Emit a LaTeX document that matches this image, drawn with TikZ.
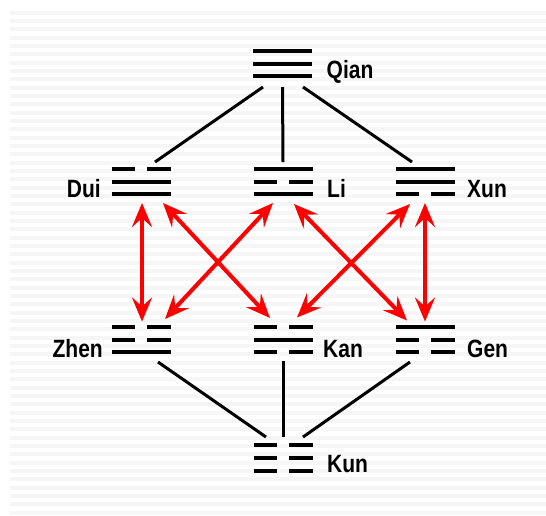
\documentclass[tikz,border=0pt]{standalone}
\usepackage{fontspec}
\newfontfamily\lab{Liberation Sans}[BoldFeatures={FakeStretch=0.84}]
\usetikzlibrary{calc,arrows.meta}
\tikzset{
 tri/.style={minimum width=59pt, minimum height=30pt, inner sep=0pt, outer sep=0pt},
 lbl/.style={font=\lab\bfseries\fontsize{25}{26}\selectfont, inner sep=0pt},
 bar/.style={line width=4pt, black},
 link/.style={line width=3pt, black},
 rarr/.style={red, line width=4pt, {Stealth[length=24pt,width=20pt,inset=9pt]}-{Stealth[length=24pt,width=20pt,inset=9pt]}},
 stripe/.style={fill=gray!7, draw=none}
}
\newcommand{\trline}[3]{%
 \ifnum#3=1
   \draw[bar] ($(#1.center)+(-29.5,#2)$) -- ($(#1.center)+(29.5,#2)$);
 \else
   \draw[bar] ($(#1.center)+(-29.5,#2)$) -- ($(#1.center)+(-6,#2)$);
   \draw[bar] ($(#1.center)+(6,#2)$) -- ($(#1.center)+(29.5,#2)$);
 \fi}
\newcommand{\trigram}[4]{\trline{#1}{-12.75}{#2}\trline{#1}{0}{#3}\trline{#1}{12.75}{#4}}
\begin{document}
\begin{tikzpicture}[x=1pt,y=-1pt]
\useasboundingbox (0,0) rectangle (546,515);
\fill[white] (0,0) rectangle (546,515);
\foreach \k in {0,...,60} \fill[stripe] (10,{10.7+8.333*\k}) rectangle (546,{14.7+8.333*\k});
% trigram nodes
\node[tri] (qian) at (282.5,63.5) {};
\node[tri] (dui)  at (141,181.5) {};
\node[tri] (li)   at (283,181.5) {};
\node[tri] (xun)  at (425,181.5) {};
\node[tri] (zhen) at (141,339.5) {};
\node[tri] (kan)  at (283,339.5) {};
\node[tri] (gen)  at (425,339.5) {};
\node[tri] (kun)  at (283,458) {};
\trigram{qian}{1}{1}{1}
\trigram{dui}{0}{1}{1}
\trigram{li}{1}{0}{1}
\trigram{xun}{1}{1}{0}
\trigram{zhen}{0}{0}{1}
\trigram{kan}{0}{1}{0}
\trigram{gen}{1}{0}{0}
\trigram{kun}{0}{0}{0}
% labels
\node[lbl,anchor=base west] (qianL) at ($(qian.center)+(44,14.5)$) {Qian};
\node[lbl,anchor=base east] (duiL) at ($(dui.center)+(-40,15.5)$) {Dui};
\node[lbl,anchor=base west] (liL) at ($(li.center)+(44,15.5)$) {Li};
\node[lbl,anchor=base west] (xunL) at ($(xun.center)+(42,15.5)$) {Xun};
\node[lbl,anchor=base east] (zhenL) at ($(zhen.center)+(-38,17.5)$) {Zhen};
\node[lbl,anchor=base west] (kanL) at ($(kan.center)+(40,17.5)$) {Kan};
\node[lbl,anchor=base west] (genL) at ($(gen.center)+(42,17.5)$) {Gen};
\node[lbl,anchor=base west] (kunL) at ($(kun.center)+(44,14)$) {Kun};
% black links
\draw[link] ($(qian.center)+(-19.5,23.5)$) -- ($(dui.center)+(14,-19.5)$);
\draw[link] ($(qian.center)+(0,23.5)$) -- ($(li.center)+(0,-19.5)$);
\draw[link] ($(qian.center)+(20.5,23.5)$) -- ($(xun.center)+(-13,-19.5)$);
\draw[link] ($(zhen.center)+(17,22.5)$) -- ($(kun.center)+(-17,-21)$);
\draw[link] ($(kan.center)+(0,21)$) -- ($(kun.center)+(0,-21)$);
\draw[link] ($(gen.center)+(-15,22.5)$) -- ($(kun.center)+(20,-21)$);
% red arrows
\draw[rarr] ($(dui.center)+(1,21.5)$) -- ($(zhen.center)+(1,-18)$);
\draw[rarr] ($(dui.center)+(22,21.5)$) -- ($(kan.center)+(-13,-21.5)$);
\draw[rarr] ($(li.center)+(-10,21.5)$) -- ($(zhen.center)+(24,-20.5)$);
\draw[rarr] ($(li.center)+(11,22.5)$) -- ($(gen.center)+(-18,-19)$);
\draw[rarr] ($(xun.center)+(-15,22.5)$) -- ($(kan.center)+(14,-22)$);
\draw[rarr] ($(xun.center)+(0,21.5)$) -- ($(gen.center)+(0,-18)$);
\end{tikzpicture}
\end{document}
